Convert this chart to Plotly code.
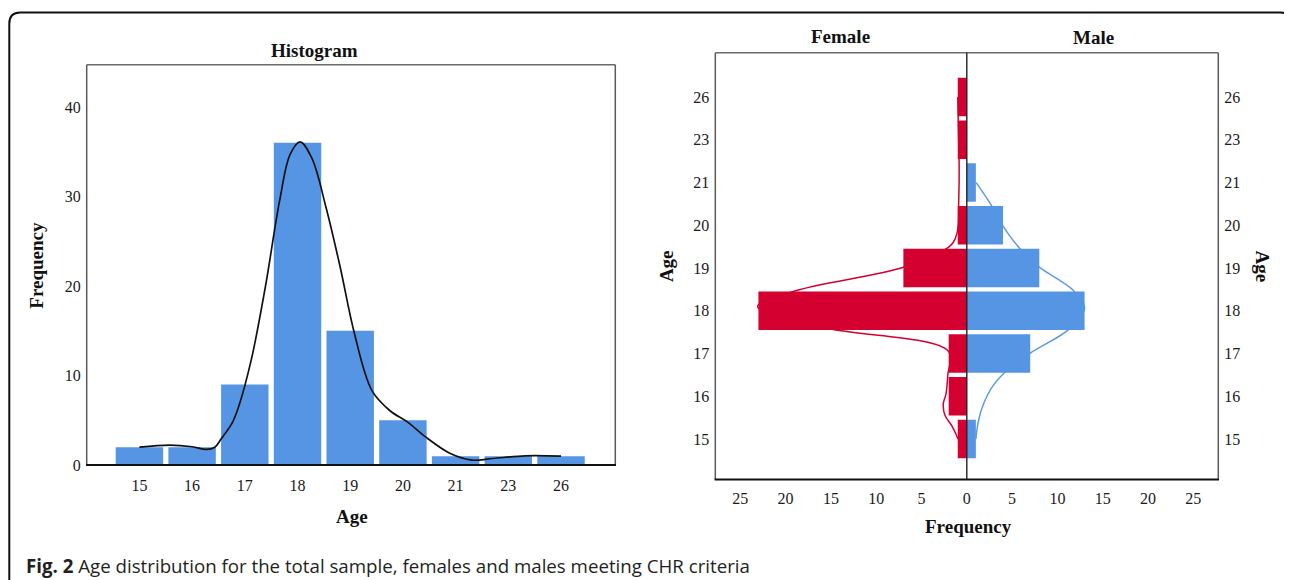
import plotly.graph_objects as go

OFF = 8        # the page body adds an 8 px margin
VS = 0.985     # vertical factor observed between layout pixels and the photographed picture
W, H = 1292, 600

# ---------------- data ----------------
ages = ["15", "16", "17", "18", "19", "20", "21", "23", "26"]
total_freq = [2, 2, 9, 36, 15, 5, 1, 1, 1]
female_freq = [1, 2, 2, 23, 7, 1, 0, 1, 1]
male_freq = [1, 0, 7, 13, 8, 4, 1, 0, 0]

# smoothed curve over the histogram (category position, frequency)
hist_curve_pos = [0.0, 0.57, 1.0, 1.27, 1.43, 1.56, 1.75, 1.87, 2.12, 2.39, 2.66, 2.86, 3.05,
                  3.27, 3.54, 3.81, 4.08, 4.41, 4.75, 5.09, 5.43, 5.9, 6.31, 6.71, 7.32, 8.0]
hist_curve_freq = [2.0, 2.23, 2.05, 1.75, 2.0, 3.0, 4.6, 6.3, 11.7, 19.9, 29.5, 34.7, 36.1,
                   34.3, 28.8, 22.1, 14.7, 8.35, 6.1, 4.8, 3.15, 1.3, 0.56, 0.74, 1.04, 1.0]

# smoothed curves of the pyramid (category position, frequency)
female_curve_pos = [8.0, 7.5, 7.0, 6.5, 6.0, 5.5, 5.0, 4.8, 4.61, 4.49, 4.02, 3.47, 3.1,
                    2.61, 2.05, 1.5, 1.05, 0.82, 0.55, 0.31, 0.0]
female_curve_freq = [1.0, 0.95, 0.9, 0.85, 0.85, 0.9, 0.95, 1.1, 1.47, 2.0, 7.0, 18.9, 23.1,
                     15.8, 2.0, 2.1, 2.3, 2.6, 2.4, 1.65, 0.95]
male_curve_pos = [6.0, 5.49, 5.03, 4.47, 4.04, 3.47, 3.07, 2.59, 2.01, 1.6, 1.25, 0.82, 0.43, 0.0]
male_curve_freq = [1.03, 2.65, 3.86, 5.8, 7.9, 11.8, 13.0, 11.4, 7.0, 4.4, 2.9, 1.84, 1.29, 1.0]

left_y_ticks = [0, 10, 20, 30, 40]
right_x_ticks = [-25, -20, -15, -10, -5, 0, 5, 10, 15, 20, 25]
right_x_ticktext = [str(abs(v)) for v in right_x_ticks]

# ---------------- helpers ----------------
def px(x):
    return (x - OFF) / W


def py(y):
    return 1 - (y / VS - OFF) / H


pos = list(range(len(ages)))

BLUE = "#5595E3"
RED = "#D40030"
SERIF = "Liberation Serif"
TICKFONT = dict(family=SERIF, size=16, color="#1a1a1a")
TITLEFONT = dict(family=SERIF, size=19, color="#111111", weight="bold")

# plot boxes (pixels in the target picture)
L = dict(x0=86.7, x1=615.3, y0=64.7, y1=465.0)
R = dict(x0=715.3, x1=1218.3, y0=52.7, y1=479.3)

fig = go.Figure()

# left histogram
fig.add_trace(go.Bar(x=pos, y=total_freq, marker=dict(color=BLUE, line=dict(width=0)),
                     xaxis="x", yaxis="y", showlegend=False, hoverinfo="skip"))
fig.add_trace(go.Scatter(x=hist_curve_pos, y=hist_curve_freq, mode="lines",
                         line=dict(color="#111111", width=1.7, shape="spline", smoothing=1.0),
                         xaxis="x", yaxis="y", showlegend=False, hoverinfo="skip"))

# right pyramid: curves below (x2/y2), bars above (x3/y3 overlay)
fig.add_trace(go.Scatter(x=[-v for v in female_curve_freq], y=female_curve_pos, mode="lines",
                         line=dict(color=RED, width=1.5, shape="spline", smoothing=1.0),
                         xaxis="x2", yaxis="y2", showlegend=False, hoverinfo="skip"))
fig.add_trace(go.Scatter(x=male_curve_freq, y=male_curve_pos, mode="lines",
                         line=dict(color="#5C9BE6", width=1.5, shape="spline", smoothing=1.0),
                         xaxis="x2", yaxis="y2", showlegend=False, hoverinfo="skip"))
fig.add_trace(go.Bar(x=[-v for v in female_freq], y=pos, orientation="h",
                     marker=dict(color=RED, line=dict(width=0)),
                     xaxis="x3", yaxis="y3", showlegend=False, hoverinfo="skip"))
fig.add_trace(go.Bar(x=male_freq, y=pos, orientation="h",
                     marker=dict(color=BLUE, line=dict(width=0)),
                     xaxis="x3", yaxis="y3", showlegend=False, hoverinfo="skip"))

xr_right = [-27.76, 27.76]
yr_right = [-0.943, 9.036]

fig.update_layout(
    width=W, height=H,
    margin=dict(l=0, r=0, t=0, b=0),
    paper_bgcolor="white", plot_bgcolor="rgba(0,0,0,0)",
    barmode="overlay", bargap=0.1,
    showlegend=False,
    xaxis=dict(domain=[px(L["x0"]), px(L["x1"])], range=[-1.0, 9.03], anchor="y",
               tickvals=pos, ticktext=ages, showgrid=False, zeroline=False, showline=False,
               ticks="", tickfont=TICKFONT, ticklabelstandoff=9, fixedrange=True),
    yaxis=dict(domain=[py(L["y1"]), py(L["y0"])], range=[0, 44.7], anchor="x",
               tickvals=left_y_ticks, showgrid=False, zeroline=False, showline=False,
               ticks="", tickfont=TICKFONT, ticklabelstandoff=5, fixedrange=True),
    xaxis2=dict(domain=[px(R["x0"]), px(R["x1"])], range=xr_right, anchor="y2",
                tickvals=right_x_ticks, ticktext=right_x_ticktext, showgrid=False,
                zeroline=False, showline=False, ticks="", tickfont=TICKFONT,
                ticklabelstandoff=8, fixedrange=True),
    yaxis2=dict(domain=[py(R["y1"]), py(R["y0"])], range=yr_right, anchor="x2",
                tickvals=pos, ticktext=ages, showgrid=False, zeroline=False, showline=False,
                ticks="", tickfont=TICKFONT, ticklabelstandoff=5, side="left", fixedrange=True),
    xaxis3=dict(overlaying="x2", range=xr_right, anchor="y3", visible=False, fixedrange=True),
    yaxis3=dict(overlaying="y2", range=yr_right, anchor="x3", side="right",
                tickvals=pos, ticktext=ages, showgrid=False, zeroline=False, showline=False,
                ticks="", tickfont=TICKFONT, ticklabelstandoff=5, fixedrange=True),
)

shapes = []
GRAY = "#5a5a5a"
for box in (L, R):
    # left, top, right in gray; bottom in black
    shapes.append(dict(type="line", xref="paper", yref="paper",
                       x0=px(box["x0"]), x1=px(box["x0"]), y0=py(box["y0"]), y1=py(box["y1"]),
                       line=dict(color=GRAY, width=1.5)))
    shapes.append(dict(type="line", xref="paper", yref="paper",
                       x0=px(box["x0"]), x1=px(box["x1"]), y0=py(box["y0"]), y1=py(box["y0"]),
                       line=dict(color="#6a6a6a", width=1.5)))
    shapes.append(dict(type="line", xref="paper", yref="paper",
                       x0=px(box["x1"]), x1=px(box["x1"]), y0=py(box["y0"]), y1=py(box["y1"]),
                       line=dict(color=GRAY, width=1.5)))
    shapes.append(dict(type="line", xref="paper", yref="paper",
                       x0=px(box["x0"] - 0.7), x1=px(box["x1"] + 0.7), y0=py(box["y1"]), y1=py(box["y1"]),
                       line=dict(color="#111111", width=2)))
# zero line of the pyramid
shapes.append(dict(type="line", xref="x2", yref="y2 domain", x0=0, x1=0, y0=0, y1=1,
                   line=dict(color="#222222", width=1.4), layer="above"))
# outer rounded frame
r = 11
xl, yt, xrgt = 9.3, 12.3, 1291.0
path = (f"M {px(xl)},{py(620)} L {px(xl)},{py(yt + r)} "
        f"Q {px(xl)},{py(yt)} {px(xl + r)},{py(yt)} "
        f"L {px(xrgt - r)},{py(yt)} Q {px(xrgt)},{py(yt)} {px(xrgt)},{py(yt + r)} "
        f"L {px(xrgt)},{py(620)}")
shapes.append(dict(type="path", xref="paper", yref="paper", path=path,
                   line=dict(color="#111111", width=2)))
fig.update_layout(shapes=shapes)

ann = []
def label(text, x, y, font, angle=0, xanchor="center"):
    ann.append(dict(text=text, x=px(x), y=py(y), xref="paper", yref="paper",
                    xanchor=xanchor, yanchor="middle", showarrow=False,
                    textangle=angle, font=font))

label("Histogram", 314, 50.5, TITLEFONT)
label("Frequency", 36.6, 265, TITLEFONT, angle=-90)
label("Age", 352, 516, TITLEFONT)
label("Female", 840, 36.5, TITLEFONT)
label("Male", 1093, 37.5, TITLEFONT)
label("Age", 666, 266, TITLEFONT, angle=-90)
label("Age", 1262.5, 266, TITLEFONT, angle=90)
label("Frequency", 968, 526, TITLEFONT)
label("<b>Fig. 2</b> Age distribution for the total sample, females and males meeting CHR criteria",
      24, 565, dict(family="Open Sans", size=18.7, color="#231f20"), xanchor="left")
fig.update_layout(annotations=ann)

fig.write_html("out.html")
